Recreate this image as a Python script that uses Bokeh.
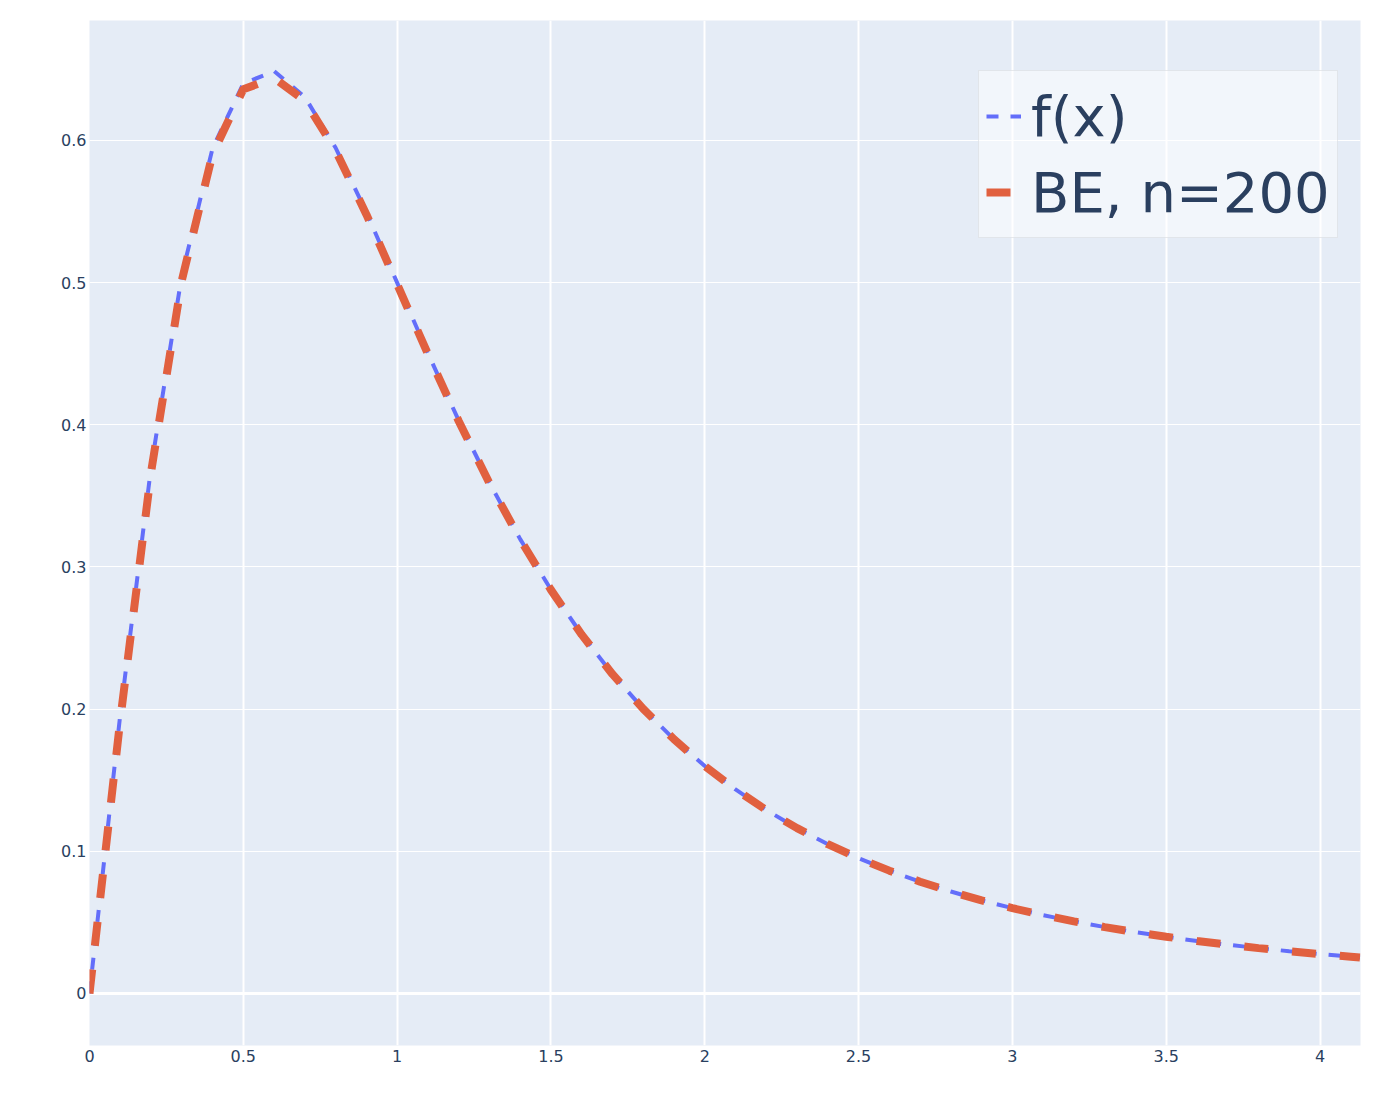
from bokeh.plotting import figure
from bokeh.models import Range1d, Legend, LegendItem, Span, FixedTicker, CustomJSTickFormatter
from bokeh.embed import file_html
from bokeh.resources import INLINE

# ---- data ----
x_vals = [0.0, 0.1, 0.2, 0.3, 0.4, 0.5, 0.6, 0.7, 0.8, 0.9, 1.0,
          1.1, 1.2, 1.3, 1.4, 1.5, 1.6, 1.7, 1.8, 1.9, 2.0,
          2.1, 2.2, 2.3, 2.4, 2.5, 2.6, 2.7, 2.8, 2.9, 3.0,
          3.1, 3.2, 3.3, 3.4, 3.5, 3.6, 3.7, 3.8, 3.9, 4.0,
          4.1, 4.13]
fx_vals = [0.0, 0.1961, 0.3698, 0.5050, 0.5945, 0.6400, 0.6488, 0.6306, 0.5949, 0.5494, 0.5000,
           0.4504, 0.4031, 0.3593, 0.3196, 0.2840, 0.2525, 0.2247, 0.2002, 0.1788, 0.1600,
           0.1435, 0.1290, 0.1163, 0.1050, 0.0951, 0.0864, 0.0786, 0.0717, 0.0655, 0.0600,
           0.0551, 0.0507, 0.0467, 0.0431, 0.0399, 0.0369, 0.0343, 0.0319, 0.0297, 0.0277,
           0.0259, 0.0253]
be_vals = [0.0, 0.1925, 0.3665, 0.5015, 0.5905, 0.6360, 0.6440, 0.6280, 0.5930, 0.5480, 0.4990,
           0.4498, 0.4027, 0.3590, 0.3194, 0.2839, 0.2524, 0.2246, 0.2002, 0.1788, 0.1600,
           0.1435, 0.1290, 0.1163, 0.1050, 0.0951, 0.0864, 0.0786, 0.0717, 0.0655, 0.0600,
           0.0551, 0.0507, 0.0467, 0.0431, 0.0399, 0.0369, 0.0343, 0.0319, 0.0297, 0.0277,
           0.0259, 0.0253]
series_names = ["f(x)", "BE, n=200"]
x_ticks = [0, 0.5, 1, 1.5, 2, 2.5, 3, 3.5, 4]
y_ticks = [0, 0.1, 0.2, 0.3, 0.4, 0.5, 0.6]

FONT = "DejaVu Sans"
TXT = "#2a3f5f"

p = figure(frame_width=1271, frame_height=1025,
           min_border_left=89, min_border_top=20, min_border_right=20, min_border_bottom=40,
           x_range=Range1d(0, 4.1316), y_range=Range1d(-0.0366, 0.6844),
           output_backend="svg", toolbar_location=None,
           background_fill_color="#E5ECF6", border_fill_color="white")
p.outline_line_color = None

p.xaxis.ticker = FixedTicker(ticks=x_ticks)
p.yaxis.ticker = FixedTicker(ticks=y_ticks)
fmt = "return String(Math.round(tick*1000)/1000);"
for ax in (p.xaxis[0], p.yaxis[0]):
    ax.formatter = CustomJSTickFormatter(code=fmt)
    ax.axis_line_color = None
    ax.major_tick_line_color = None
    ax.minor_tick_line_color = None
    ax.major_tick_out = 0
    ax.major_tick_in = 0
    ax.minor_tick_out = 0
    ax.minor_tick_in = 0
    ax.major_label_text_font = FONT
    ax.major_label_text_font_size = "16px"
    ax.major_label_text_color = TXT
p.yaxis.major_label_standoff = 3
p.xaxis.major_label_standoff = 4

p.xgrid.grid_line_color = "white"
p.xgrid.grid_line_width = 2
p.ygrid.grid_line_color = "white"
p.ygrid.grid_line_width = 1
p.add_layout(Span(location=0, dimension="width", line_color="white", line_width=3, level="underlay"))

r1 = p.line(x_vals, fx_vals, line_color="#636efa", line_width=4, line_dash="12 12")
r2 = p.line(x_vals, be_vals, line_color="#E1603F", line_width=8, line_dash="24 24")

legend = Legend(items=[LegendItem(label=series_names[0], renderers=[r1]),
                       LegendItem(label=series_names[1], renderers=[r2])],
                location=(889, 807))
legend.label_text_font = FONT
legend.label_text_font_size = "56px"
legend.label_text_color = TXT
legend.label_height = 76
legend.glyph_height = 76
legend.glyph_width = 35
legend.label_standoff = 10
legend.padding = 7
legend.spacing = 0
legend.margin = 0
legend.background_fill_color = "white"
legend.background_fill_alpha = 0.5
legend.border_line_color = "#d0d4d9"
legend.border_line_width = 1
p.add_layout(legend, "center")

open("out.html", "w").write(file_html(p, INLINE))
